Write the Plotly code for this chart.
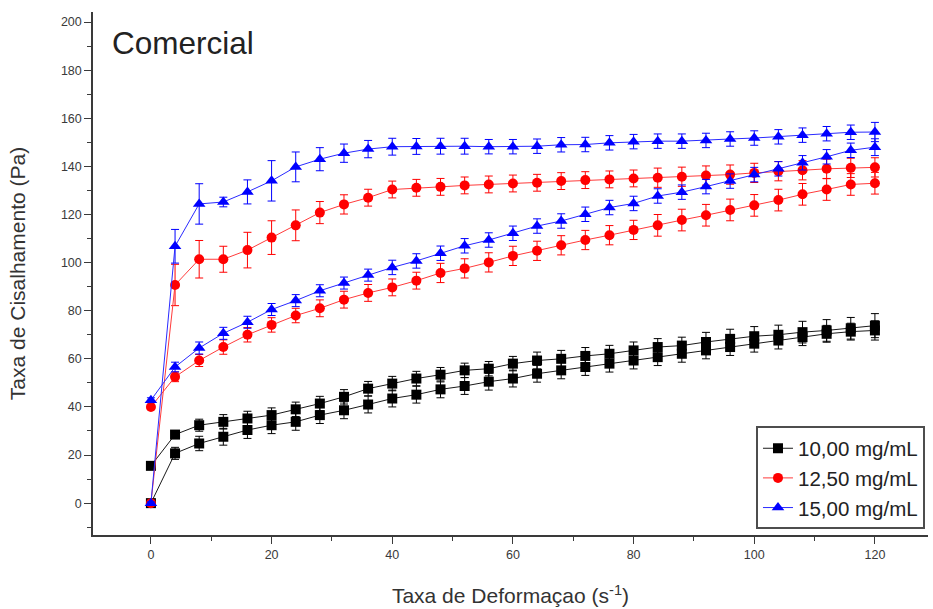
import plotly.graph_objects as go

# Shear rate sweep (s^-1): up ramp 0 -> 120, then down ramp 120 -> 0
shear_rate = list(range(0, 121, 4))

# Shear stress (Pa), ascending branch, by concentration
up_10 = [0, 20.7, 24.8, 27.6, 30.4, 32.4, 33.8, 36.6, 38.6, 41.0, 43.5, 45.1, 47.3, 48.7, 50.5, 51.8,
         53.8, 55.2, 56.6, 58.0, 59.3, 60.7, 62.1, 63.5, 64.9, 66.3, 67.6, 69.0, 70.4, 71.3, 71.8]
up_12 = [0, 90.7, 101.4, 101.4, 105.2, 110.4, 115.5, 120.8, 124.2, 127.0, 130.4, 131.1, 131.5, 132.1,
         132.5, 132.9, 133.2, 133.9, 134.3, 134.6, 135.0, 135.3, 135.7, 136.2, 136.6, 137.3, 138.0,
         138.4, 139.0, 139.4, 139.6]
up_15 = [0, 106.8, 124.4, 125.2, 129.4, 134.0, 139.8, 143.0, 145.5, 147.2, 148.2, 148.3, 148.4, 148.4,
         148.2, 148.2, 148.4, 149.0, 149.1, 149.8, 150.3, 150.5, 150.5, 150.8, 151.4, 151.8, 152.3,
         153.0, 153.6, 154.2, 154.3]

# Shear stress (Pa), descending branch, listed by increasing shear rate
down_10 = [15.5, 28.5, 32.4, 33.8, 35.2, 36.6, 39.0, 41.4, 44.2, 47.6, 49.7, 51.8, 53.4, 55.2, 55.9,
           58.0, 59.3, 60.0, 61.2, 62.1, 63.5, 64.9, 65.5, 67.0, 68.3, 69.4, 70.0, 71.1, 71.8, 72.7, 73.8]
down_12 = [40.0, 52.5, 59.3, 64.9, 70.0, 74.1, 78.0, 81.0, 84.6, 87.4, 89.7, 92.5, 95.7, 97.6, 100.1,
           102.8, 104.9, 107.2, 109.4, 111.4, 113.6, 115.5, 117.7, 119.7, 121.9, 123.8, 126.0, 128.4,
           130.4, 132.5, 133.0]
down_15 = [42.8, 56.6, 64.5, 70.6, 75.2, 80.5, 84.2, 88.3, 91.5, 94.8, 98.0, 100.7, 103.9, 107.0,
           109.4, 112.2, 115.2, 117.3, 120.1, 122.9, 124.6, 127.7, 129.3, 131.6, 133.9, 136.6, 139.0,
           141.5, 144.0, 146.7, 148.0]

# Standard deviations (Pa)
err_up_10 = [0.5, 2.5, 3, 3.5, 3.5, 3.5, 3.5, 3.5, 3.5, 3.5, 3.5, 3.5, 3.5, 3.5, 3.5, 3.5,
             3.5, 3.5, 3.5, 3.5, 3.5, 3.5, 3.5, 3.5, 3.5, 3.5, 3.5, 3.5, 3.5, 3.5, 4]
err_down_10 = [0.5, 1.5, 2.5, 3, 3, 3, 3, 3, 3, 3, 3, 3, 3, 3, 3, 3,
               3.5, 3.5, 3.5, 3.5, 3.5, 3.5, 3.5, 4, 4, 4, 4, 4.5, 4.5, 4.5, 5]
err_up_12 = [0.5, 8.6, 7.8, 5.4, 7.4, 7.0, 6.4, 4.6, 4.0, 3.5, 3.5, 3.5, 3.5, 3.5, 3.5, 3.5,
             3.5, 3.5, 3.5, 3.5, 3.5, 4, 4, 4, 4, 4, 4, 4, 4, 4, 4]
err_down_12 = [1, 2, 2.5, 3, 3, 3, 3, 3.5, 3.5, 3.5, 3.5, 3.5, 4, 4, 4, 4,
               4, 4, 4, 4, 4, 4.5, 4.5, 4.5, 4.5, 4.5, 4.5, 4.5, 4.5, 4.5, 4.5]
err_up_15 = [0.5, 7.0, 8.4, 2.0, 5.0, 8.4, 6.2, 4.8, 3.8, 3.6, 3.5, 3.3, 3.3, 3.3, 3, 3,
             3, 3, 3, 3, 3, 3, 3, 3, 3, 3, 3, 3, 3, 3, 4]
err_down_15 = [1, 2, 2.5, 2.5, 2.5, 2.5, 2.5, 2.5, 2.5, 2.5, 3, 3, 3, 3, 3, 3,
               3, 3, 3, 3, 3, 3, 3, 3, 3, 3, 3, 3, 3, 3, 3.5]

series_names = ["10,00 mg/mL", "12,50 mg/mL", "15,00 mg/mL"]
colors = ["#000000", "#ff0000", "#0000ff"]
line_colors = ["#1a1a1a", "#ff3b3b", "#2a2aff"]
symbols = ["square", "circle", "triangle-up"]
marker_sizes = [10, 10, 11]

ups = [up_10, up_12, up_15]
downs = [down_10, down_12, down_15]
err_ups = [err_up_10, err_up_12, err_up_15]
err_downs = [err_down_10, err_down_12, err_down_15]

fig = go.Figure()
for name, col, lcol, sym, ms, up, dn, eu, ed in zip(series_names, colors, line_colors, symbols,
                                                     marker_sizes, ups, downs, err_ups, err_downs):
    x = shear_rate + shear_rate[::-1]
    y = up + dn[::-1]
    err = eu + ed[::-1]
    fig.add_trace(go.Scatter(
        x=x, y=y, name=name, mode="lines+markers",
        line=dict(color=lcol, width=1),
        marker=dict(symbol=sym, size=ms, color=col, line=dict(width=0)),
        error_y=dict(type="data", array=err, visible=True, color=col, thickness=1, width=4),
    ))

axis_font = dict(family="Liberation Sans, Arial, sans-serif", size=12.5, color="#3a3a3a")

fig.update_layout(
    width=933, height=609,
    margin=dict(l=93, r=5, t=12, b=72),
    paper_bgcolor="white", plot_bgcolor="white",
    showlegend=True,
    legend=dict(
        x=0.794, y=0.2076, xanchor="left", yanchor="top",
        bgcolor="white", bordercolor="#4d4d4d", borderwidth=2,
        font=dict(family="Liberation Sans, Arial, sans-serif", size=20.5, color="#222222"),
        tracegroupgap=0, itemwidth=30,
    ),
    xaxis=dict(
        range=[-9.6, 128.8], tickvals=[0, 20, 40, 60, 80, 100, 120],
        showgrid=False, zeroline=False, showline=True, linecolor="#3a3a3a", linewidth=1.5,
        ticks="outside", ticklen=7, tickwidth=1.2, tickcolor="#3a3a3a",
        minor=dict(dtick=10, tick0=0, ticks="outside", ticklen=4, tickcolor="#3a3a3a", tickwidth=1),
        tickfont=axis_font,
        title=dict(text="Taxa de Deformaçao (s<sup>-1</sup>)", standoff=28,
                   font=dict(family="Liberation Sans, Arial, sans-serif", size=21, color="#333333")),
    ),
    yaxis=dict(
        range=[-13.25, 204.2], tickvals=list(range(0, 201, 20)),
        showgrid=False, zeroline=False, showline=True, linecolor="#3a3a3a", linewidth=1.5,
        ticks="outside", ticklen=7, tickwidth=1.2, tickcolor="#3a3a3a",
        minor=dict(dtick=10, tick0=0, ticks="outside", ticklen=4, tickcolor="#3a3a3a", tickwidth=1),
        tickfont=axis_font,
        title=dict(text="Taxa de Cisalhamento (Pa)", standoff=30,
                   font=dict(family="Liberation Sans, Arial, sans-serif", size=21, color="#333333")),
    ),
    annotations=[dict(
        text="Comercial", x=0.0204, y=0.941, xref="paper", yref="paper",
        xanchor="left", yanchor="middle", showarrow=False,
        font=dict(family="Liberation Sans, Arial, sans-serif", size=31.5, color="#222222"),
    )],
)

fig.write_html("out.html")
